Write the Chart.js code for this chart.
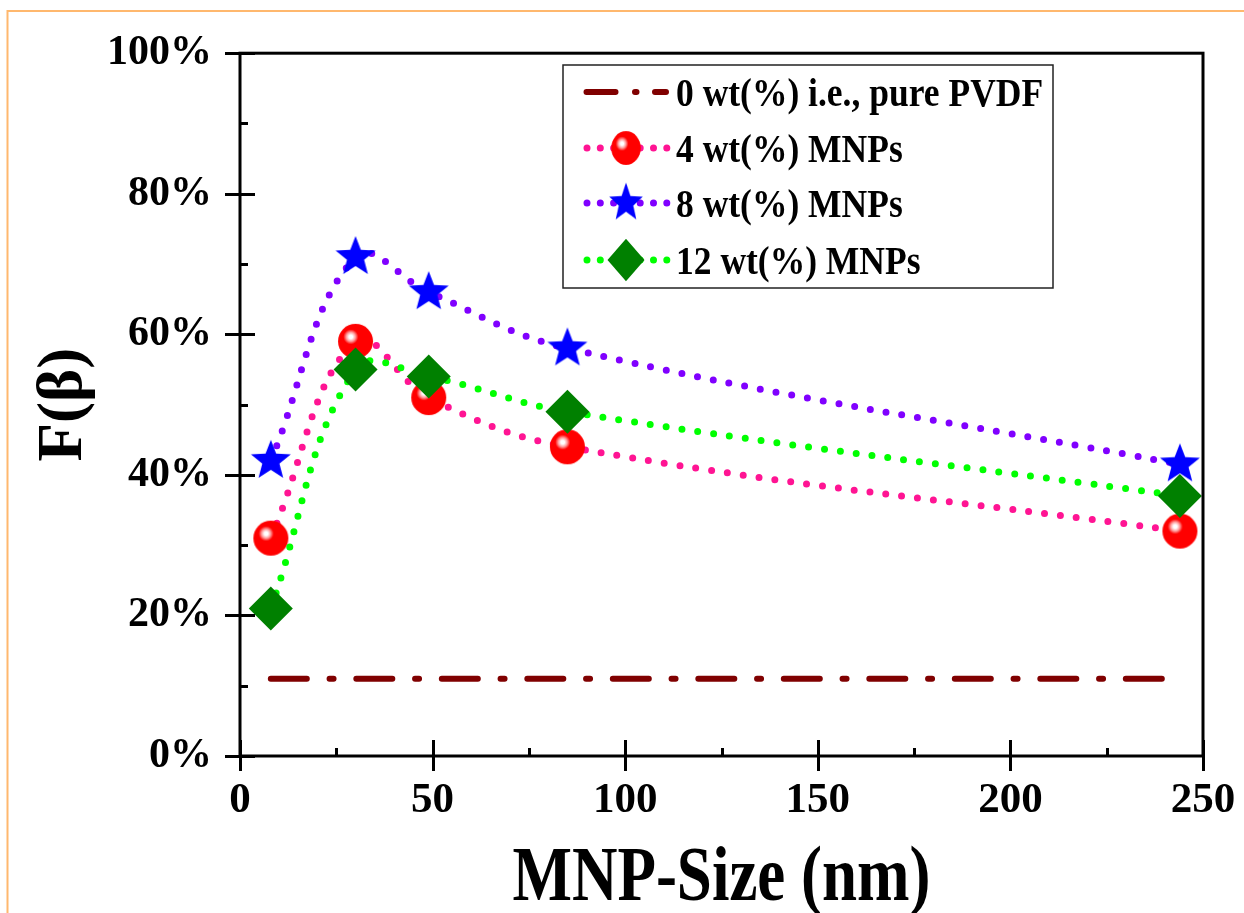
<!DOCTYPE html>
<html>
<head>
<meta charset="utf-8">
<script src="https://cdn.jsdelivr.net/npm/chart.js@4.4.1/dist/chart.umd.min.js"></script>
<style>
  html, body { margin: 0; padding: 0; background: #fff; }
  #wrap { position: relative; width: 1244px; height: 913px; }
</style>
</head>
<body>
<div id="wrap"><canvas id="fbChart" width="1244" height="913"></canvas></div>
<script>
// values
const mnpSize = [8, 30, 49, 85, 244];       // nm
const wt4 = [31, 59, 51, 44, 32];            // F(beta) %, 4 wt(%) MNPs
const wt8 = [42, 71, 66, 58, 41.5];          // 8 wt(%) MNPs
const wt12 = [21, 55, 54, 49, 37];           // 12 wt(%) MNPs
const pvdfSize = [8, 240];                   // pure PVDF reference line
const pvdf = [11, 11];
const xTickValues = [0, 50, 100, 150, 200, 250];
const yTickValues = [0, 20, 40, 60, 80, 100];
const seriesLabels = ['0 wt(%) i.e., pure PVDF', '4 wt(%) MNPs', '8 wt(%) MNPs', '12 wt(%) MNPs'];
const xTitle = 'MNP-Size (nm)';
const yTitle = 'F(β)';

const serif = "'Liberation Serif', 'Times New Roman', serif";

function toPoints(xs, ys) {
  return xs.map((x, i) => ({ x: x, y: ys[i] }));
}

// red shaded ball marker
function makeBall(r) {
  const c = document.createElement('canvas');
  const s = Math.ceil(r * 2 + 2);
  c.width = c.height = s;
  const g = c.getContext('2d');
  const cx = s / 2, cy = s / 2;
  const hx = cx - r * 0.27, hy = cy - r * 0.26;
  const grad = g.createRadialGradient(hx, hy, 0, hx, hy, r * 1.3);
  grad.addColorStop(0, '#ffffff');
  grad.addColorStop(0.08, '#ffffff');
  grad.addColorStop(0.2, '#ff9c9c');
  grad.addColorStop(0.33, '#ff0000');
  grad.addColorStop(1, '#ff0000');
  g.fillStyle = grad;
  g.beginPath();
  g.arc(cx, cy, r, 0, Math.PI * 2);
  g.fill();
  return c;
}

// filled five point star marker
function makeStar(R, color) {
  const c = document.createElement('canvas');
  const s = Math.ceil(R * 2 + 2);
  c.width = c.height = s;
  const g = c.getContext('2d');
  g.fillStyle = color;
  g.beginPath();
  for (let i = 0; i < 10; i++) {
    const rad = i % 2 ? R * 0.43 : R;
    const a = -Math.PI / 2 + i * Math.PI / 5;
    const px = s / 2 + Math.cos(a) * rad;
    const py = s / 2 + Math.sin(a) * rad;
    if (i === 0) g.moveTo(px, py); else g.lineTo(px, py);
  }
  g.closePath();
  g.fill();
  return c;
}

const ballImg = makeBall(17.5);
const starImg = makeStar(21, '#0000ff');

// orange page frame (only top and left edges show)
const pageFrame = {
  id: 'pageFrame',
  beforeDraw(chart) {
    const ctx = chart.ctx;
    ctx.save();
    ctx.strokeStyle = '#ffb86e';
    ctx.lineWidth = 2;
    ctx.beginPath();
    ctx.moveTo(7.5, chart.height);
    ctx.lineTo(7.5, 11);
    ctx.lineTo(chart.width, 11);
    ctx.stroke();
    ctx.restore();
  }
};

// box frame with ticks crossing the axes, minor ticks inside, tall x title
const axisFrame = {
  id: 'axisFrame',
  afterDatasetsDraw(chart) {
    const ctx = chart.ctx;
    const a = chart.chartArea;
    const xs = chart.scales.x, ys = chart.scales.y;
    ctx.save();
    ctx.strokeStyle = '#000';
    ctx.lineWidth = 3;
    ctx.lineCap = 'butt';
    ctx.strokeRect(a.left, a.top, a.right - a.left, a.bottom - a.top);

    ctx.beginPath();
    yTickValues.forEach((v, i) => {
      const py = Math.round(ys.getPixelForValue(v)) + 0.5;
      ctx.moveTo(a.left - 15, py);
      ctx.lineTo(a.left + 15, py);
      if (i > 0) {
        const my = Math.round(ys.getPixelForValue((v + yTickValues[i - 1]) / 2)) + 0.5;
        ctx.moveTo(a.left, my);
        ctx.lineTo(a.left + 8, my);
      }
    });
    xTickValues.forEach((v, i) => {
      const px = Math.round(xs.getPixelForValue(v)) + 0.5;
      ctx.moveTo(px, a.bottom - 16);
      ctx.lineTo(px, a.bottom + 15);
      if (i > 0) {
        const mx = Math.round(xs.getPixelForValue((v + xTickValues[i - 1]) / 2)) + 0.5;
        ctx.moveTo(mx, a.bottom);
        ctx.lineTo(mx, a.bottom - 8);
      }
    });
    ctx.stroke();

    // x axis title, drawn a bit taller than wide like the original
    ctx.translate((a.left + a.right) / 2, 900);
    ctx.scale(1, 1.25);
    ctx.fillStyle = '#000';
    ctx.font = 'bold 63px ' + serif;
    ctx.textAlign = 'center';
    ctx.textBaseline = 'alphabetic';
    ctx.fillText(xTitle, 0, 0);
    ctx.restore();
  }
};

// legend drawn inside the plot, line sample + marker like the original
const insideLegend = {
  id: 'insideLegend',
  afterDraw(chart) {
    const ctx = chart.ctx;
    const box = { x: 563, y: 65, w: 490, h: 223 };
    const rows = [92, 148, 203, 260];
    const stretch = 1.15;
    ctx.save();
    ctx.fillStyle = '#fff';
    ctx.fillRect(box.x, box.y, box.w, box.h);
    ctx.strokeStyle = '#222';
    ctx.lineWidth = 1.5;
    ctx.strokeRect(box.x, box.y, box.w, box.h);

    chart.data.datasets.forEach((ds, i) => {
      const cy = rows[i];
      ctx.save();
      ctx.strokeStyle = ds.borderColor;
      ctx.lineCap = 'round';
      if (ds.legendSample === 'dashdot') {
        ctx.lineWidth = 6;
        ctx.beginPath();
        ctx.moveTo(586.5, cy); ctx.lineTo(615.5, cy);
        ctx.moveTo(635, cy); ctx.lineTo(636.5, cy);
        ctx.moveTo(655, cy); ctx.lineTo(666, cy);
        ctx.stroke();
      } else {
        ctx.lineWidth = 7;
        ctx.setLineDash([0, 13.3]);
        ctx.beginPath();
        ctx.moveTo(587, cy); ctx.lineTo(668, cy);
        ctx.stroke();
        ctx.setLineDash([]);
        ctx.translate(626, cy);
        ctx.scale(0.84, 0.84 * stretch);
        if (ds.pointStyle === 'rectRot') {
          const r = ds.pointRadius;
          ctx.fillStyle = ds.pointBackgroundColor;
          ctx.beginPath();
          ctx.moveTo(0, -r); ctx.lineTo(r, 0); ctx.lineTo(0, r); ctx.lineTo(-r, 0);
          ctx.closePath();
          ctx.fill();
        } else {
          const img = ds.pointStyle;
          ctx.drawImage(img, -img.width / 2, -img.height / 2);
        }
      }
      ctx.restore();

      ctx.save();
      ctx.translate(676, cy);
      ctx.scale(1, stretch);
      ctx.fillStyle = '#000';
      ctx.font = 'bold 35.5px ' + serif;
      ctx.textBaseline = 'alphabetic';
      ctx.fillText(ds.label, 0, 35.5 * 0.34);
      ctx.restore();
    });
    ctx.restore();
  }
};

const ctx = document.getElementById('fbChart').getContext('2d');
new Chart(ctx, {
  type: 'line',
  data: {
    datasets: [
      {
        label: seriesLabels[0],
        data: toPoints(pvdfSize, pvdf),
        borderColor: '#800000',
        borderWidth: 6,
        borderDash: [36, 22.75, 4, 22.75],
        borderCapStyle: 'round',
        pointRadius: 0,
        tension: 0,
        legendSample: 'dashdot',
        order: 4
      },
      {
        label: seriesLabels[1],
        data: toPoints(mnpSize, wt4),
        borderColor: '#ff1493',
        borderWidth: 7,
        borderDash: [0, 16],
        borderCapStyle: 'round',
        tension: 0.4,
        pointStyle: ballImg,
        pointRadius: 18,
        legendSample: 'dots',
        order: 3
      },
      {
        label: seriesLabels[2],
        data: toPoints(mnpSize, wt8),
        borderColor: '#8000ff',
        borderWidth: 7,
        borderDash: [0, 16],
        borderCapStyle: 'round',
        tension: 0.4,
        pointStyle: starImg,
        pointRadius: 20,
        legendSample: 'dots',
        order: 2
      },
      {
        label: seriesLabels[3],
        data: toPoints(mnpSize, wt12),
        borderColor: '#00ff00',
        borderWidth: 7,
        borderDash: [0, 16],
        borderCapStyle: 'round',
        tension: 0.4,
        pointStyle: 'rectRot',
        pointRadius: 22,
        pointBackgroundColor: '#008000',
        pointBorderColor: '#008000',
        pointBorderWidth: 0,
        legendSample: 'dots',
        order: 1
      }
    ]
  },
  options: {
    responsive: false,
    devicePixelRatio: 1,
    animation: false,
    clip: false,
    layout: { padding: { left: 0, top: 51, right: 41, bottom: 0 } },
    plugins: {
      legend: { display: false },
      tooltip: { enabled: false }
    },
    scales: {
      x: {
        type: 'linear',
        min: 0,
        max: 250,
        afterBuildTicks: s => { s.ticks = xTickValues.map(v => ({ value: v })); },
        afterFit: s => { s.height = 157; s.paddingLeft = 0; s.paddingRight = 0; },
        grid: { display: false, drawTicks: false },
        border: { display: false },
        ticks: {
          padding: 19,
          maxRotation: 0,
          autoSkip: false,
          color: '#000',
          font: { family: serif, size: 43, weight: 'bold' }
        },
        title: { display: false, text: xTitle }
      },
      y: {
        min: 0,
        max: 100,
        afterBuildTicks: s => { s.ticks = yTickValues.map(v => ({ value: v })); },
        afterFit: s => { s.width = 240; },
        grid: { display: false, drawTicks: false },
        border: { display: false },
        ticks: {
          padding: 28,
          color: '#000',
          font: { family: serif, size: 42, weight: 'bold' },
          callback: v => v + '%'
        },
        title: {
          display: true,
          text: yTitle,
          color: '#000',
          font: { family: serif, size: 63, weight: 'bold' },
          padding: { top: 27, bottom: 0 }
        }
      }
    }
  },
  plugins: [pageFrame, axisFrame, insideLegend]
});
</script>
</body>
</html>
